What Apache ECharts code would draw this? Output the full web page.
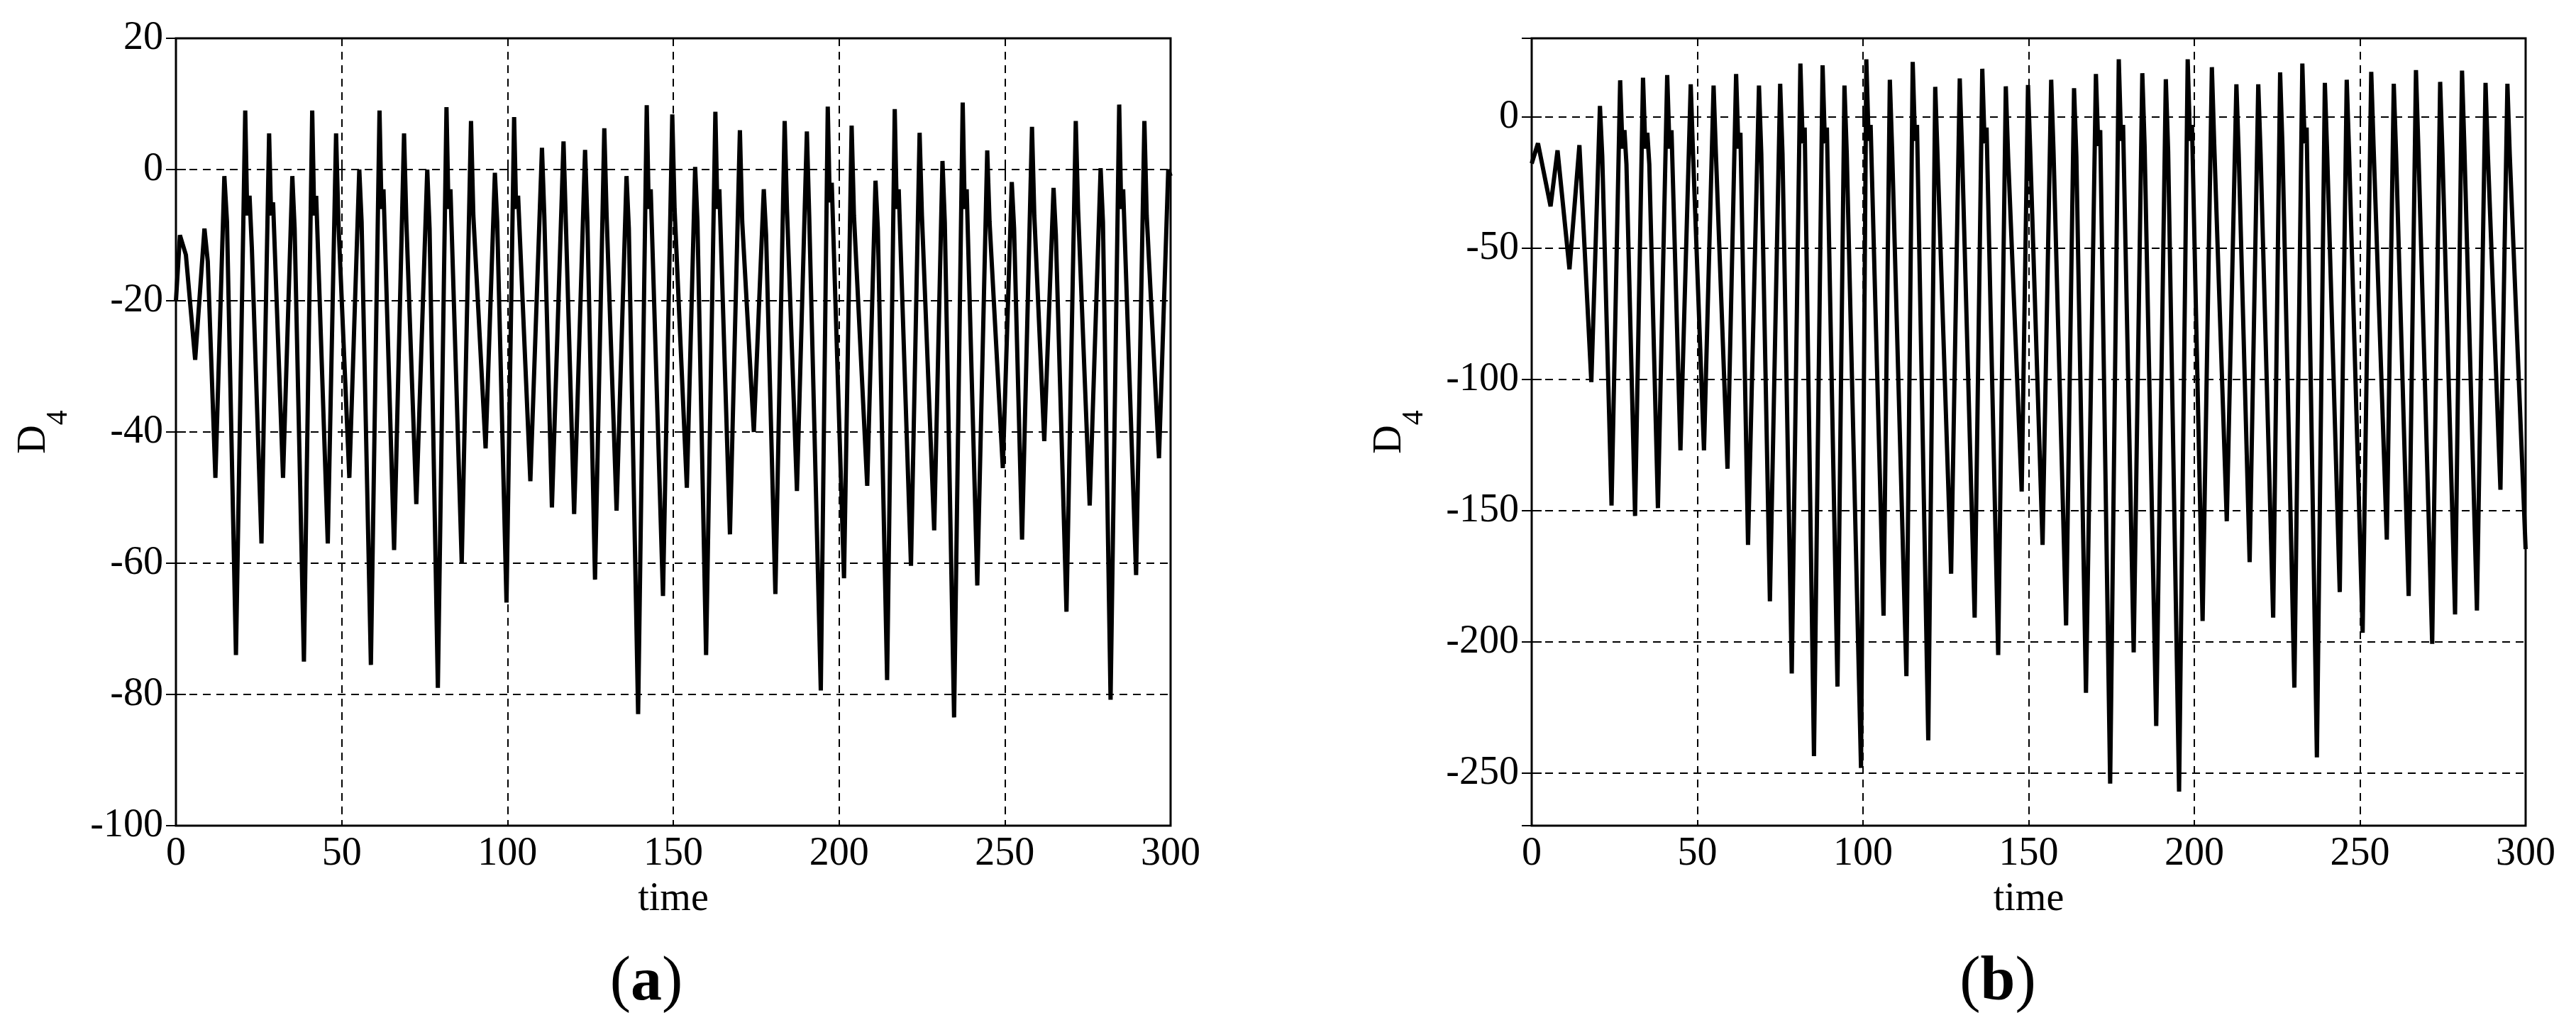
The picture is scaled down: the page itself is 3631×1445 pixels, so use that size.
<!DOCTYPE html>
<html>
<head>
<meta charset="utf-8">
<title>D4 vs time</title>
<script src="https://cdn.jsdelivr.net/npm/echarts@6/dist/echarts.min.js"></script>
<style>
  html, body { margin: 0; padding: 0; background: #fff; }
  #chart { width: 3631px; height: 1445px; }
</style>
</head>
<body>
<div id="chart"></div>
<script>
// tick labels
const timeTicks = [0, 50, 100, 150, 200, 250, 300]
const d4TicksA = [-100, -80, -60, -40, -20, 0, 20]
const d4TicksB = [-250, -200, -150, -100, -50, 0]

// panel (a): time / D4 (peaks, shoulders, troughs)
const timeA = [
  0, 1.2, 3.0, 5.8, 8.6, 9.6, 11.9, 14.6, 15.4, 18.1,
  20.9, 21.5, 22.2, 22.9, 25.8, 28.1, 28.7, 29.3, 32.3, 35.1,
  35.8, 38.6, 41.1, 41.7, 42.3, 45.8, 48.3, 49.0, 52.3, 55.3,
  56.0, 58.8, 61.4, 62.0, 62.6, 65.8, 68.8, 69.5, 72.5, 75.8,
  76.5, 79.0, 81.6, 82.2, 82.8, 86.2, 89.0, 89.7, 93.4, 96.2,
  96.9, 99.7, 102.0, 102.6, 103.2, 106.9, 110.4, 111.1, 113.4, 116.9,
  117.6, 120.1, 123.4, 124.1, 126.4, 129.2, 129.9, 132.9, 135.9, 136.6,
  139.4, 142.0, 142.6, 143.2, 146.9, 149.7, 150.4, 154.1, 156.6, 157.3,
  159.9, 162.7, 163.3, 163.9, 167.1, 170.1, 170.8, 174.3, 177.3, 178.0,
  180.8, 183.6, 184.3, 187.3, 190.3, 191.0, 194.5, 196.6, 197.2, 197.8,
  201.5, 203.8, 204.5, 208.5, 211.0, 211.7, 214.5, 216.8, 217.4, 218.0,
  221.7, 224.3, 225.0, 228.7, 231.2, 231.9, 234.7, 237.3, 237.9, 238.5,
  241.7, 244.7, 245.4, 249.4, 252.1, 252.8, 255.2, 258.2, 258.9, 261.9,
  264.7, 265.4, 268.6, 271.4, 272.1, 275.6, 278.9, 279.6, 281.9, 284.5,
  285.1, 285.7, 289.6, 292.1, 292.8, 296.5, 299.3, 300
]
const d4A = [
  -20, -10, -13, -29, -9, -14, -47, -1, -8, -74,
  9, -7, -4, -12, -57, 5.5, -7, -5, -47, -1,
  -9, -75, 9, -7, -4, -57, 5.5, -8, -47, 0,
  -8, -75.5, 9, -6, -3, -58, 5.5, -8, -51, 0,
  -9, -79, 9.5, -6, -3, -60, 7.4, -7, -42.5, -0.5,
  -8, -66, 8, -6, -4, -47.5, 3.3, -7, -51.5, 4.3,
  -8, -52.5, 3, -8, -62.5, 6.3, -7, -52, -1, -9,
  -83, 9.8, -6, -3, -65, 8.4, -6, -48.5, 0.4, -8,
  -74, 8.8, -6, -3, -55.6, 6, -8, -40, -3, -10,
  -64.7, 7.4, -6, -49, 5.8, -7, -79.4, 9.6, -5, -2,
  -62.3, 6.7, -7, -48.2, -1.7, -9, -77.8, 9.2, -6, -3,
  -60.4, 5.6, -7, -55, 1.3, -8, -83.5, 10.2, -6, -3,
  -63.4, 2.9, -8, -45.5, -1.9, -9, -56.4, 6.5, -7, -41.4,
  -2.8, -10, -67.4, 7.4, -6, -51.2, 0.2, -8, -80.8, 9.9,
  -6, -3, -61.8, 7.4, -7, -44, 0, -1
]

// panel (b)
const timeB = [
  0, 1.9, 5.7, 7.8, 11.4, 14.4, 18.0, 20.6, 21.3, 24.1,
  26.7, 27.4, 28.0, 28.6, 31.2, 33.6, 34.3, 34.9, 35.5, 38.1,
  40.9, 41.6, 42.2, 44.9, 48.0, 48.7, 52.0, 54.9, 55.6, 59.1,
  61.7, 62.4, 63.0, 65.3, 68.6, 69.3, 71.9, 75.0, 75.7, 78.5,
  81.1, 81.8, 82.4, 85.2, 87.8, 88.5, 89.1, 92.3, 94.4, 95.1,
  99.4, 101.0, 101.7, 102.3, 106.2, 108.1, 108.8, 113.1, 115.0, 115.7,
  116.3, 119.7, 121.8, 122.5, 126.6, 129.2, 129.9, 133.7, 136.0, 136.7,
  137.3, 140.8, 143.1, 143.8, 147.9, 149.8, 150.5, 154.2, 156.8, 157.5,
  161.3, 163.7, 164.4, 167.3, 170.3, 171.0, 171.6, 174.6, 177.2, 177.9,
  178.5, 181.7, 184.3, 185.0, 188.5, 191.4, 192.1, 195.4, 198.0, 198.7,
  199.3, 202.5, 205.3, 206.0, 209.8, 212.7, 213.4, 216.7, 219.3, 220.0,
  223.8, 225.9, 226.6, 230.2, 232.6, 233.3, 233.9, 237.0, 239.4, 240.1,
  243.9, 246.0, 246.7, 250.8, 253.4, 254.1, 258.1, 260.2, 260.9, 264.7,
  266.9, 267.6, 271.8, 274.2, 274.9, 278.7, 280.8, 281.5, 285.3, 287.9,
  288.6, 292.4, 294.5, 295.2, 300
]
const d4B = [
  -17.7, -10, -34, -12.7, -58, -10.7, -101, 4.2, -15, -148,
  14, -12, -5, -18, -152, 15, -12, -6, -18, -149,
  16, -12, -5, -127, 12.5, -14, -127, 12, -14, -134,
  16.4, -12, -6, -163, 12, -14, -184.5, 12.7, -14, -212,
  20.4, -10, -4, -243.5, 19.7, -10, -4, -217, 12, -14,
  -248, 22, -9, -3, -190, 14.2, -13, -213, 21, -9,
  -3, -237.5, 11.5, -15, -174, 14.7, -13, -190.7, 18.4, -10,
  -4, -205, 11.7, -15, -142.7, 12.2, -14, -163, 14.2, -13,
  -193.7, 11, -15, -219.4, 16.4, -11, -5, -254, 22, -9,
  -3, -204, 16.7, -11, -232, 14.4, -13, -257, 22, -9,
  -3, -192, 19, -10, -154, 12.5, -14, -169.6, 12.5, -14,
  -190.7, 17, -11, -217.4, 20.4, -10, -4, -244, 13, -14,
  -181, 14.2, -13, -196.5, 17.2, -11, -161, 12.7, -14, -182.5,
  17.9, -11, -200.7, 13.4, -14, -189.5, 17.7, -11, -188, 13,
  -14, -142, 12.7, -14, -164.6
]

const FONT = "'Liberation Serif', 'Times New Roman', serif"
const chart = echarts.init(document.getElementById('chart'), null, { renderer: 'canvas' })

function pairs(xs, ys) {
  return xs.map((x, i) => [x, ys[i]])
}

const dash = [11, 8]
const grids = [
  { left: 248, top: 54, width: 1402, height: 1110 },
  { left: 2159, top: 54, width: 1401, height: 1110 }
]

function xAxisFor(idx) {
  return [{
    type: 'value',
    gridIndex: idx,
    min: 0,
    max: 300,
    interval: 50,
    name: 'time',
    nameLocation: 'middle',
    nameGap: 76,
    nameTextStyle: { fontFamily: FONT, fontSize: 56, color: '#000' },
    axisLine: { show: false },
    axisTick: { show: true, inside: true, length: 14, lineStyle: { color: '#000', width: 2 } },
    axisLabel: {
      margin: 12, fontFamily: FONT, fontSize: 56, color: '#000',
      formatter: v => (timeTicks.indexOf(v) >= 0 ? String(v) : '')
    },
    splitLine: { show: true, lineStyle: { color: '#000', width: 2, type: dash } }
  }, {
    type: 'value',
    gridIndex: idx,
    position: 'top',
    min: 0,
    max: 300,
    interval: 50,
    axisLine: { show: false },
    axisTick: { show: true, inside: true, length: 14, lineStyle: { color: '#000', width: 2 } },
    axisLabel: { show: false },
    splitLine: { show: false }
  }]
}

function yAxisFor(idx, min, max, interval, ticks) {
  const base = {
    type: 'value',
    gridIndex: idx,
    min: min,
    max: max
  }
  if (interval) base.interval = interval
  return [Object.assign({}, base, {
    name: '{d|D}{s|4}',
    nameLocation: 'middle',
    nameRotate: 90,
    nameGap: 144,
    nameTextStyle: {
      color: '#000',
      rich: {
        d: { fontFamily: FONT, fontSize: 56, color: '#000', lineHeight: 56, verticalAlign: 'top' },
        s: { fontFamily: FONT, fontSize: 42, color: '#000', lineHeight: 84, verticalAlign: 'bottom' }
      }
    },
    axisLine: { show: false },
    axisTick: { show: true, inside: true, length: 14, lineStyle: { color: '#000', width: 2 } },
    axisLabel: {
      margin: 18, fontFamily: FONT, fontSize: 56, color: '#000',
      formatter: v => (ticks.indexOf(v) >= 0 ? String(v) : '')
    },
    splitLine: { show: true, lineStyle: { color: '#000', width: 2, type: dash } }
  }), Object.assign({}, base, {
    position: 'right',
    axisLine: { show: false },
    axisTick: { show: true, inside: true, length: 14, lineStyle: { color: '#000', width: 2 } },
    axisLabel: { show: false },
    splitLine: { show: false }
  })]
}

const caption = (x, letter) => ({
  type: 'text',
  x: x,
  y: 1386,
  style: {
    text: '{p|(}{b|' + letter + '}{p|)}',
    textAlign: 'center',
    textVerticalAlign: 'middle',
    align: 'center',
    verticalAlign: 'middle',
    rich: {
      p: { fontFamily: FONT, fontSize: 88, fill: '#000', color: '#000' },
      b: { fontFamily: FONT, fontSize: 88, fontWeight: 'bold', fill: '#000', color: '#000' }
    }
  }
})

chart.setOption({
  animation: false,
  backgroundColor: '#fff',
  grid: grids.map(g => Object.assign({ show: true, borderColor: '#000', borderWidth: 3, backgroundColor: 'transparent' }, g)),
  xAxis: xAxisFor(0).concat(xAxisFor(1)),
  yAxis: yAxisFor(0, -100, 20, 20, d4TicksA).concat(yAxisFor(1, -270, 30, null, d4TicksB)),
  series: [
    {
      type: 'line',
      xAxisIndex: 0,
      yAxisIndex: 0,
      data: pairs(timeA, d4A),
      symbol: 'none',
      lineStyle: { color: '#000', width: 6 },
      z: 5
    },
    {
      type: 'line',
      xAxisIndex: 2,
      yAxisIndex: 2,
      data: pairs(timeB, d4B),
      symbol: 'none',
      lineStyle: { color: '#000', width: 6 },
      z: 5
    }
  ],
  graphic: [caption(911, 'a'), caption(2816, 'b')]
})
</script>
</body>
</html>
